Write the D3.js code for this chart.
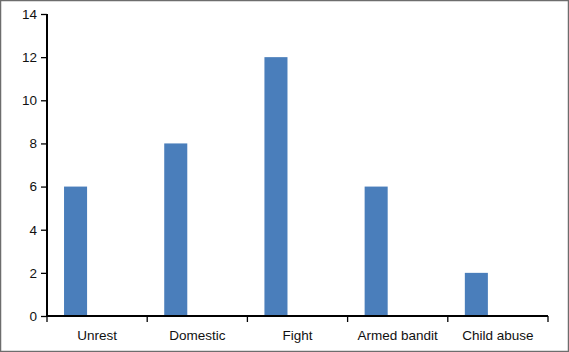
<!DOCTYPE html>
<html><head><meta charset="utf-8">
<script src="https://cdn.jsdelivr.net/npm/d3@7"></script>
<style>html,body{margin:0;padding:0;background:#fff;}svg{display:block;}</style>
</head><body>
<svg id="c" width="569" height="352"></svg>
<script>
const categories = ["Unrest", "Domestic", "Fight", "Armed bandit", "Child abuse"];
const values = [6, 8, 12, 6, 2];
const yTicks = [0, 2, 4, 6, 8, 10, 12, 14];

const svg = d3.select("#c");
const W = 569, H = 352;
svg.append("rect").attr("x", 0.5).attr("y", 0.5).attr("width", W - 1).attr("height", H - 1)
  .attr("fill", "#fff").attr("stroke", "#6d6d6d").attr("stroke-width", 1.5);

const m = {left: 47, right: 21, top: 14, bottom: 36};
const x = d3.scaleBand().domain(categories).range([m.left, W - m.right]).padding(0);
const y = d3.scaleLinear().domain([0, 14]).range([H - m.bottom, m.top]);

const bw = x.bandwidth();
svg.append("g").selectAll("rect").data(values).join("rect")
  .attr("x", (d, i) => x(categories[i]) + bw * 0.17)
  .attr("width", bw * 0.23)
  .attr("y", d => y(d))
  .attr("height", d => y(0) - y(d))
  .attr("fill", "#4a7ebb");

const font = "'Liberation Sans', Arial, sans-serif";
// y axis
const ya = svg.append("g").attr("transform", `translate(${m.left},0)`)
  .call(d3.axisLeft(y).tickValues(yTicks).tickSize(6).tickPadding(4).tickFormat(d3.format("d")));
ya.select(".domain").attr("stroke", "#000").attr("stroke-width", 2).attr("d", `M0,${y(14)}V${y(0)}`);
ya.selectAll(".tick line").attr("stroke", "#000").attr("stroke-width", 1.3);
ya.selectAll("text").attr("font-family", font).attr("font-size", 13.5).attr("fill", "#111");

// x axis
const xa = svg.append("g").attr("transform", `translate(0,${y(0)})`);
xa.append("path").attr("d", `M${m.left - 1},0H${W - m.right}`).attr("stroke", "#000").attr("stroke-width", 2);
const bounds = categories.map(c => x(c)).concat([x(categories[categories.length - 1]) + bw]);
xa.selectAll("line.t").data(bounds).join("line").attr("class", "t")
  .attr("x1", d => d).attr("x2", d => d).attr("y1", 0).attr("y2", 6)
  .attr("stroke", "#000").attr("stroke-width", 1.3);
xa.selectAll("text").data(categories).join("text")
  .attr("x", d => x(d) + bw / 2).attr("y", 24)
  .attr("text-anchor", "middle").attr("font-family", font).attr("font-size", 13.5).attr("fill", "#111")
  .text(d => d);
</script>
</body></html>
